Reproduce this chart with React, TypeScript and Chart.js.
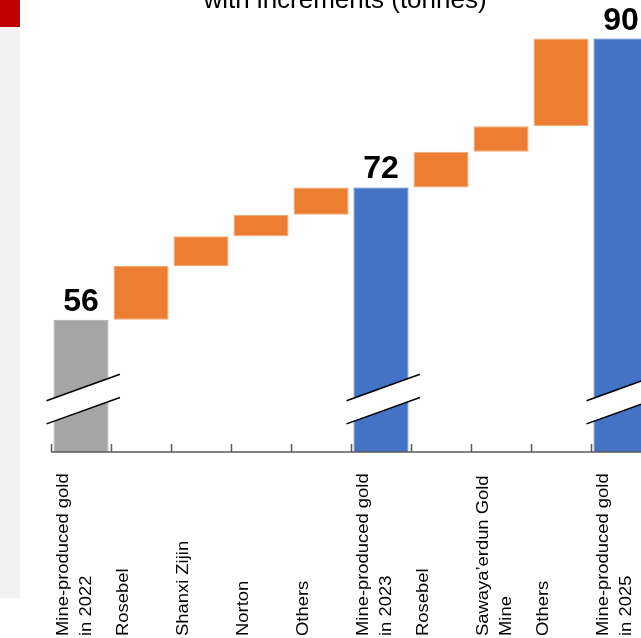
import React, { useEffect, useRef } from "react";
import { Chart, registerables } from "chart.js";

Chart.register(...registerables);

// ---- data ----
const CATEGORIES: string[][] = [
  ["Mine-produced gold", "in 2022"],
  ["Rosebel"],
  ["Shanxi Zijin"],
  ["Norton"],
  ["Others"],
  ["Mine-produced gold", "in 2023"],
  ["Rosebel"],
  ["Sawaya\u2019erdun Gold", "Mine"],
  ["Others"],
  ["Mine-produced gold", "in 2025"],
];
const TOTALS = [56, 72, 90];
const INCREMENTS_2022_2023 = [6.5, 3.6, 2.6, 3.3];
const INCREMENTS_2023_2025 = [4.3, 3.1, 10.6];
const Y_MIN = 40;
const Y_MAX = 92;
const TITLE = "with increments (tonnes)";

// ---- styles ----
const FONT = '"Liberation Sans", Arial, Helvetica, sans-serif';
const GRAY = "#a5a5a5";
const ORANGE = "#ed7d31";
const BLUE = "#4472c4";
const SHIFT = 30; // canvas is shifted up by this many px
const CW = 700;
const CH = 668;

function buildBars() {
  const data: [number, number][] = [];
  const colors: string[] = [];
  const borders: string[] = [];
  const totalIdx: number[] = [];
  const groups = [INCREMENTS_2022_2023, INCREMENTS_2023_2025];
  TOTALS.forEach((t, k) => {
    totalIdx.push(data.length);
    data.push([Y_MIN, t]);
    colors.push(k === 0 ? GRAY : BLUE);
    borders.push(k === 0 ? GRAY : BLUE);
    const inc = groups[k];
    if (inc) {
      let run = t;
      inc.forEach((v) => {
        data.push([run, run + v]);
        colors.push(ORANGE);
        borders.push("#f4a673");
        run += v;
      });
    }
  });
  return { data, colors, borders, totalIdx };
}

export default function App() {
  const ref = useRef<HTMLCanvasElement | null>(null);

  useEffect(() => {
    if (!ref.current) return;
    const { data, colors, borders, totalIdx } = buildBars();

    const overlay = {
      id: "overlay",
      afterDatasetsDraw(chart: any) {
        const { ctx, scales } = chart;
        const meta = chart.getDatasetMeta(0);
        const y = scales.y;
        ctx.save();
        totalIdx.forEach((idx, k) => {
          const bar = meta.data[idx];
          const c = bar.x;
          const x0 = c - 34.5;
          const x1 = c + 39;
          const yHi = y.getPixelForValue(47.7);
          const yLo = y.getPixelForValue(44.9);
          const slope = 0.36;
          const yAt = (base: number, x: number) => base - (x - c) * slope;
          ctx.beginPath();
          ctx.moveTo(x0, yAt(yHi, x0));
          ctx.lineTo(x1, yAt(yHi, x1));
          ctx.lineTo(x1, yAt(yLo, x1));
          ctx.lineTo(x0, yAt(yLo, x0));
          ctx.closePath();
          ctx.fillStyle = "#ffffff";
          ctx.fill();
          ctx.strokeStyle = "#000000";
          ctx.lineWidth = 1.5;
          ctx.beginPath();
          ctx.moveTo(x0, yAt(yHi, x0));
          ctx.lineTo(x1, yAt(yHi, x1));
          ctx.moveTo(x0, yAt(yLo, x0));
          ctx.lineTo(x1, yAt(yLo, x1));
          ctx.stroke();

          ctx.fillStyle = "#000000";
          ctx.font = `bold 32px ${FONT}`;
          ctx.textAlign = "center";
          ctx.textBaseline = "alphabetic";
          ctx.fillText(String(TOTALS[k]), c, bar.y - 9);
        });
        ctx.restore();
      },
      afterDraw(chart: any) {
        const { ctx, chartArea, scales } = chart;
        const x = scales.x;
        const n = CATEGORIES.length;
        const catW = (chartArea.right - chartArea.left) / n;
        ctx.save();
        // axis line
        ctx.strokeStyle = "#595959";
        ctx.lineWidth = 1.5;
        ctx.beginPath();
        ctx.moveTo(chartArea.left, chartArea.bottom);
        ctx.lineTo(chartArea.right, chartArea.bottom);
        for (let i = 0; i <= n; i++) {
          const bx = Math.round(chartArea.left + i * catW) + 0.5;
          ctx.moveTo(bx, chartArea.bottom - 8);
          ctx.lineTo(bx, chartArea.bottom);
        }
        ctx.stroke();

        // category labels (vertical, reading upward)
        ctx.fillStyle = "#000000";
        ctx.font = `16px ${FONT}`;
        ctx.textAlign = "left";
        ctx.textBaseline = "alphabetic";
        CATEGORIES.forEach((lines, i) => {
          const cx = x.getPixelForValue(i);
          ctx.save();
          ctx.translate(cx - 13, 636 + SHIFT);
          ctx.rotate(-Math.PI / 2);
          ctx.scale(1.15, 1);
          lines.forEach((ln, j) => ctx.fillText(ln, 0, 23 * j));
          ctx.restore();
        });

        // title
        ctx.font = `26px ${FONT}`;
        ctx.textAlign = "center";
        ctx.fillText(TITLE, 345, 7.5 + SHIFT);
        ctx.restore();
      },
    };

    const chart = new Chart(ref.current, {
      type: "bar",
      data: {
        labels: CATEGORIES.map((c) => c.join(" ")),
        datasets: [
          {
            data: data as any,
            backgroundColor: colors,
            borderColor: borders,
            borderWidth: 1,
            borderSkipped: false,
            barPercentage: 55 / 60,
            categoryPercentage: 1,
          },
        ],
      },
      options: {
        responsive: false,
        animation: false,
        layout: { padding: { left: 51, right: CW - 651, top: 52, bottom: CH - (452 + SHIFT) } },
        plugins: { legend: { display: false }, tooltip: { enabled: false }, title: { display: false } },
        scales: {
          x: { display: false, offset: true },
          y: { display: false, min: Y_MIN, max: Y_MAX },
        },
      },
      plugins: [overlay],
    });
    return () => chart.destroy();
  }, []);

  return (
    <div
      style={{
        position: "absolute",
        left: 0,
        top: 0,
        width: 641,
        height: 638,
        overflow: "hidden",
        background: "#ffffff",
      }}
    >
      <canvas
        ref={ref}
        width={CW}
        height={CH}
        style={{ position: "absolute", left: 0, top: -SHIFT, width: CW, height: CH }}
      />
      <div style={{ position: "absolute", left: 0, top: 0, width: 20, height: 598, background: "#f2f2f2" }} />
      <div style={{ position: "absolute", left: 0, top: 0, width: 20, height: 27, background: "#c00000" }} />
    </div>
  );
}
